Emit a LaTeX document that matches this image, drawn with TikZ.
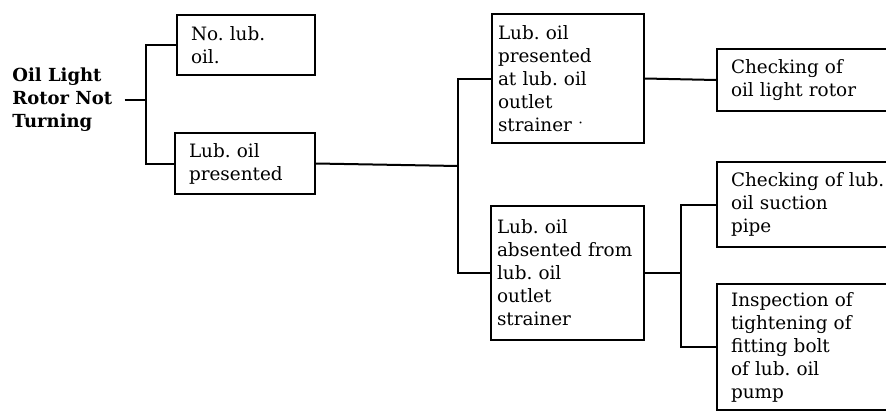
\documentclass[tikz,border=0pt]{standalone}
\usepackage{fontspec}
\setmainfont{DejaVu Serif}
\usepackage{tikz}
\usetikzlibrary{positioning}
\frenchspacing
\tikzset{
  fbox/.style={draw,line width=1pt,align=left,anchor=north west,
    inner xsep=7pt,inner ysep=2pt,font=\fontsize{9.2}{11.5}\selectfont},
  fnarrow/.style={fbox,inner xsep=3pt},
  flink/.style={line width=1pt},
}

\begin{document}
\begin{tikzpicture}[x=0.5pt,y=-0.5pt]
  \useasboundingbox (0,0) rectangle (886,412);
  \clip (0,0) rectangle (886,412);
  % root
  \node[anchor=west,inner sep=0pt,align=left,
        font=\fontsize{9}{11.5}\selectfont\bfseries] (root) at (12,100)
     {Oil Light\\Rotor Not\\Turning};
  % first level
  \node[fbox,text width=55pt,minimum height=30pt] (nolub) at (176,14)
     {No. lub.\\oil.};
  \node[fbox,text width=56pt,minimum height=30.5pt] (lubpres) at (174,132)
     {Lub. oil\\presented};
  % second level
  \node[fnarrow,text width=70pt,minimum height=64.5pt] (atstrain) at (491,13)
     {Lub. oil\\presented\\at lub. oil\\outlet\\strainer \raisebox{2pt}{$\cdot$}};
  \node[fnarrow,text width=70.5pt,minimum height=67pt] (absstrain) at (490,205)
     {Lub. oil\\absented from\\lub. oil\\outlet\\strainer};
  % third level
  \node[fbox,text width=90pt,minimum height=31pt] (rotor) at (716,48)
     {Checking of\\oil light rotor};
  \node[fbox,text width=90pt,minimum height=42.5pt] (suction) at (716,161)
     {Checking of lub.\\oil suction\\pipe};
  \node[fbox,text width=90pt,minimum height=63pt] (bolt) at (716,283)
     {Inspection of\\tightening of\\fitting bolt\\of lub. oil\\pump};
  % connectors
  \coordinate (j1) at (146,100);
  \draw[flink,shorten <=6pt] (root.east) -- (j1);
  \draw[flink] (nolub.west) -| (j1) |- (lubpres.west);
  \coordinate (j2) at (458,166);
  \draw[flink] (lubpres.east) -- (j2);
  \draw[flink] (atstrain.west) -| (j2) |- (absstrain.west);
  \draw[flink] (atstrain.east) -- (rotor.west);
  \path (absstrain.east) ++(36,0) coordinate (j3);
  \draw[flink] (absstrain.east) -- (j3);
  \draw[flink] (suction.west) -| (j3) |- (bolt.west);
\end{tikzpicture}
\end{document}
